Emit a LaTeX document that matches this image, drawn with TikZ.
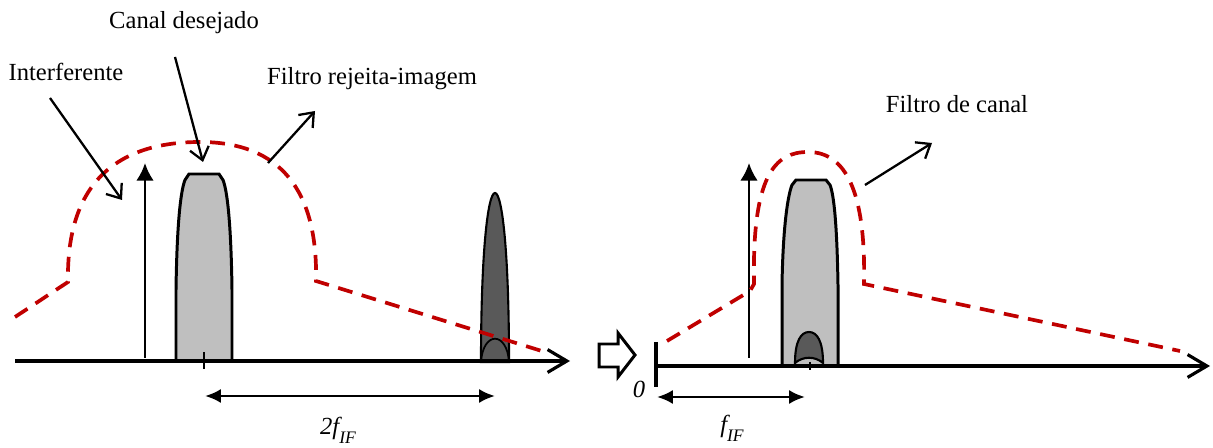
\documentclass[tikz,border=0pt]{standalone}
\usepackage{fontspec}
\setmainfont{Liberation Serif}
\usetikzlibrary{arrows.meta,positioning}
\definecolor{filtrored}{RGB}{192,0,0}
\definecolor{canalgray}{RGB}{191,191,191}
\definecolor{imagemgray}{RGB}{89,89,89}

\begin{document}
\begin{tikzpicture}[x=0.02cm,y=-0.02cm,every node/.style={font=\fontsize{14}{16}\selectfont}]
\tikzstyle{txt}=[anchor=base,inner sep=0pt]
\tikzstyle{eixo}=[line width=1.8pt,-{Straight Barb[length=11pt,width=13pt]}]
\tikzstyle{seta}=[line width=1.3pt,-{Straight Barb[length=7pt,width=11pt]}]
\tikzstyle{vert}=[line width=1.5pt,-{Latex[length=10pt,width=10pt]}]
\tikzstyle{cota}=[line width=1.6pt,{Latex[length=9pt,width=8pt]}-{Latex[length=9pt,width=8pt]}]
\tikzstyle{filtro}=[draw=filtrored,line width=2.1pt,dash pattern=on 8.5pt off 5.5pt]
\tikzstyle{canal}=[draw,line width=1.7pt,fill=canalgray]
\tikzstyle{imagem}=[draw,line width=1.2pt,fill=imagemgray]
\useasboundingbox (0,0) rectangle (1213,448);

% left spectrum
\coordinate (e1a) at (15,361);
\coordinate (e1b) at (570,361);
\coordinate (v1a) at (145,358);
\coordinate (v1b) at (145,163);
\path[canal] (176,361) -- (176,290) .. controls (177,220) and (181,190) .. (185,180) -- (189,174) -- (219,174) -- (223,180) .. controls (227,190) and (231,220) .. (232,290) -- (232,361) -- cycle;
\path[imagem] (481,362) .. controls (481,250) and (488,193) .. (495,193) .. controls (502,193) and (509,250) .. (509,362) -- cycle;
\draw[line width=1pt] (481,362) .. controls (483,331) and (507,331) .. (509,362);
\draw[eixo] (e1a) -- (e1b);
\draw[vert] (v1a) -- (v1b);
\draw[line width=1.5pt] (204,352) -- (204,369);
\draw[filtro] (15,317) -- (68,282) .. controls (66,180) and (120,142) .. (200,142) .. controls (280,142) and (318,190) .. (316,281) -- (545,352);

% labels left
\node[txt] (canal) at (184,29) {Canal desejado};
\node[txt] (interf) at (66,81) {Interferente};
\node[txt] (rejeita) at (372,85) {Filtro rejeita-imagem};
\coordinate (c1) at (175,57);
\coordinate (c2) at (203,162);
\coordinate (i1) at (50,98);
\coordinate (i2) at (122,200);
\coordinate (r1) at (268,163);
\coordinate (r2) at (315,111);
\draw[seta] (c1) -- (c2);
\draw[seta] (i1) -- (i2);
\draw[seta] (r1) -- (r2);

\coordinate (d1a) at (205,396);
\coordinate (d1b) at (495,396);
\draw[cota] (d1a) -- (d1b);
\node[txt] (doisfif) at (338,435) {\textit{2f\raisebox{-5pt}{\fontsize{10}{11}\selectfont IF}}};

% block arrow
\draw[line width=1.7pt,fill=white] (599,344) -- (618,344) -- (618,333) -- (635,355) -- (618,377) -- (618,367) -- (599,367) -- cycle;

% right spectrum
\coordinate (e2a) at (656,366);
\coordinate (e2b) at (1210,366);
\coordinate (v2a) at (749,358);
\coordinate (v2b) at (749,163);
\path[canal] (782,366) -- (782,285) .. controls (783,225) and (788,195) .. (792,185) -- (796,180) -- (826,180) -- (830,185) .. controls (834,195) and (837,225) .. (838,285) -- (838,366) -- cycle;
\path[imagem] (795,363) .. controls (795,341) and (801,332) .. (809,332) .. controls (817,332) and (823,341) .. (823,363) .. controls (815,356) and (803,356) .. (795,363) -- cycle;
\draw[eixo] (e2a) -- (e2b);
\draw[line width=2pt] (656,342) -- (656,387);
\draw[vert] (v2a) -- (v2b);
\draw[line width=1.2pt] (810,362) -- (810,370);
\draw[filtro] (667,341) -- (750,291) -- (754,284) .. controls (752,175) and (775,152) .. (808,152) .. controls (845,152) and (866,190) .. (864,284) -- (1180,351);

\node[txt] (zero) at (639,398) {\textit{0}};
\node[txt] (filcanal) at (957,113) {Filtro de canal};
\coordinate (f1) at (865,185);
\coordinate (f2) at (932,143);
\draw[seta] (f1) -- (f2);

\coordinate (d2a) at (657,397);
\coordinate (d2b) at (805,397);
\draw[cota] (d2a) -- (d2b);
\node[txt] (fif) at (732,433) {\textit{f\raisebox{-5pt}{\fontsize{10}{11}\selectfont IF}}};
\end{tikzpicture}
\end{document}
